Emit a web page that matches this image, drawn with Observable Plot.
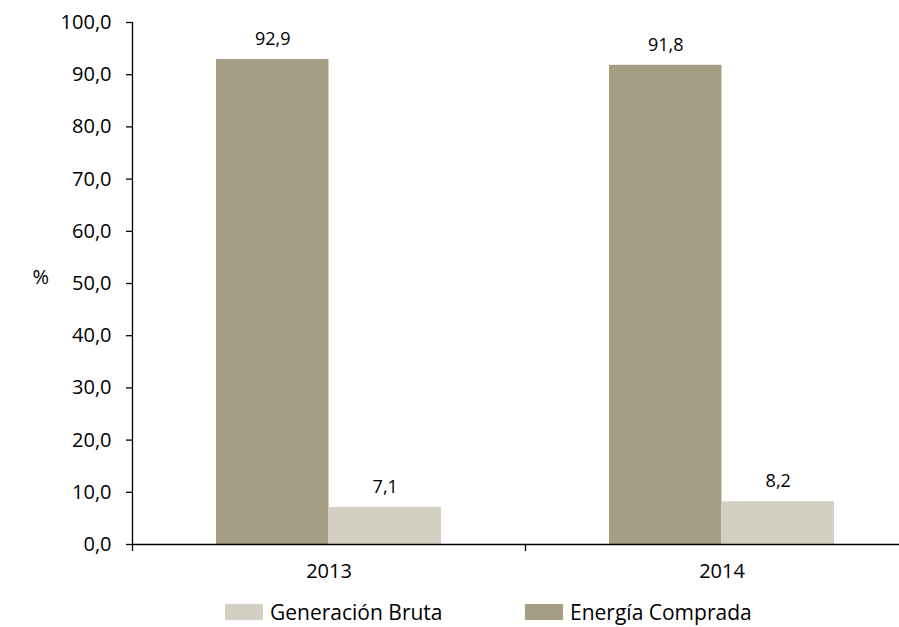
<!DOCTYPE html>
<html>
<head>
<meta charset="utf-8">
<script src="https://cdn.jsdelivr.net/npm/d3@7"></script>
<script src="https://cdn.jsdelivr.net/npm/@observablehq/plot@0.6"></script>
<style>
  html, body { margin: 0; padding: 0; background: #fff; overflow: hidden; }
  #chart { position: relative; width: 899px; height: 627px; font-family: "Open Sans", sans-serif; }
  .legend { position: absolute; top: 604px; left: 0; width: 899px; height: 20px; }
  .legend .item { position: absolute; top: 0; display: flex; align-items: center; font-size: 21px; color: #000; line-height: 16px; }
  .legend .sw { width: 38px; height: 16px; margin-right: 7px; }
</style>
</head>
<body>
<div id="chart"></div>
<script>
const years = ["2013", "2014"];
const series = ["Energía Comprada", "Generación Bruta"];
const energiaComprada = [92.9, 91.8];
const generacionBruta = [7.1, 8.2];
const colors = ["#a69d85", "#d3cfc2"];
const yTicks = [0, 10, 20, 30, 40, 50, 60, 70, 80, 90, 100];
const legendOrder = ["Generación Bruta", "Energía Comprada"];

const data = [];
years.forEach((y, i) => {
  data.push({year: y, series: series[0], value: energiaComprada[i]});
  data.push({year: y, series: series[1], value: generacionBruta[i]});
});

const fmt = v => d3.format(".1f")(v).replace(".", ",");

const paddingOuter = 0.747;
const facetWidth = (899 + 19 - 132) / years.length;
const bandwidth = facetWidth / (series.length + 2 * paddingOuter);
const axisDx = -bandwidth * (0.5 + paddingOuter);

const plot = Plot.plot({
  width: 899,
  height: 590,
  marginLeft: 132,
  marginRight: -19,
  marginTop: 22,
  marginBottom: 46,
  style: {fontFamily: "Open Sans, sans-serif", fontSize: "20px", color: "#000", background: "white"},
  fx: {domain: years, padding: 0, label: null, axis: null},
  x: {domain: series, paddingInner: 0, paddingOuter: paddingOuter, axis: null, round: false},
  y: {domain: [0, 100], label: null, axis: null},
  color: {domain: series, range: colors},
  marks: [
    Plot.barY(data, {fx: "year", x: "series", y: "value", fill: "series"}),
    Plot.text(data, {fx: "year", x: "series", y: "value", text: d => fmt(d.value), dy: -20, fontSize: 18, fill: "#000"}),
    Plot.ruleY([0], {stroke: "#000", strokeWidth: 1.3}),
    Plot.ruleX([{year: years[0], series: series[0]}], {fx: "year", x: "series", y1: 0, y2: 100, dx: axisDx, stroke: "#000", strokeWidth: 1.3}),
    Plot.frame({anchor: "left", insetTop: 522, insetBottom: -6, stroke: "#000", strokeWidth: 1.3}),
    Plot.axisFx({anchor: "bottom", tickSize: 0, tickPadding: 19, label: null, fontSize: 20, fill: "#000"}),
    Plot.axisY({ticks: yTicks, tickFormat: fmt, tickSize: 6, tickPadding: 15, label: null, fontSize: 20, strokeWidth: 1.3, stroke: "#000", fill: "#000"}),
    Plot.text([{year: "2013"}], {fx: "year", text: () => "%", frameAnchor: "left", dx: -100, dy: -6, fontSize: 20, fill: "#000"})
  ]
});

const chart = document.getElementById("chart");
chart.appendChild(plot);

const legend = document.createElement("div");
legend.className = "legend";
const lefts = [225, 525];
legendOrder.forEach((name, i) => {
  const item = document.createElement("div");
  item.className = "item";
  item.style.left = lefts[i] + "px";
  const sw = document.createElement("span");
  sw.className = "sw";
  sw.style.background = colors[series.indexOf(name)];
  const t = document.createElement("span");
  t.textContent = name;
  item.appendChild(sw);
  item.appendChild(t);
  legend.appendChild(item);
});
chart.appendChild(legend);
</script>
</body>
</html>
